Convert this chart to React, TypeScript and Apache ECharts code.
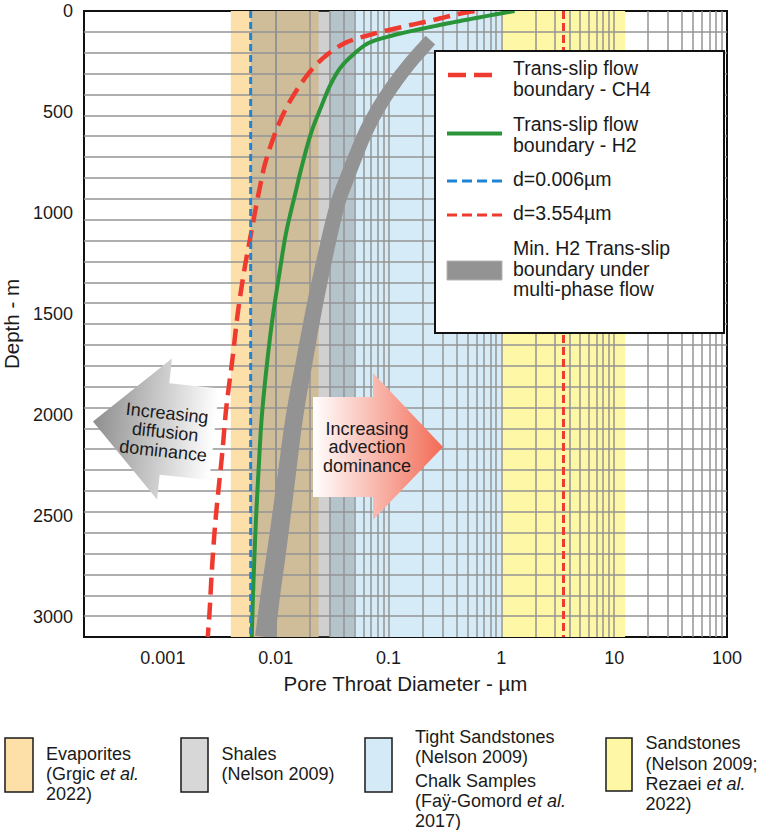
import React, { useEffect, useRef } from 'react';
import * as echarts from 'echarts';

// ---------- data ----------
const X_TICKS = [0.001, 0.01, 0.1, 1, 10, 100];
const X_TICK_LABELS = ['0.001', '0.01', '0.1', '1', '10', '100'];
const X_MIN = 0.0002;
const X_MAX = 100;
const Y_MAX = 3100;
const Y_INTERVAL = 500;
const H_GRID_COUNT = 30;

// Trans-slip flow boundary - CH4
const CH4_DIAM = [0.578, 0.414, 0.2484, 0.1345, 0.0728, 0.0407, 0.0248, 0.01716, 0.01156, 0.00822, 0.00716, 0.00605, 0.00527, 0.00461, 0.00416, 0.00363, 0.00338, 0.00293, 0.00272, 0.00259, 0.0025];
const CH4_DEPTH = [0, 15, 45, 78, 114, 160, 246, 352, 515, 738, 886, 1101, 1283, 1497, 1712, 1976, 2174, 2521, 2768, 2981, 3100];

// Trans-slip flow boundary - H2
const H2_DIAM = [1.31, 0.578, 0.24, 0.099, 0.0658, 0.05, 0.0381, 0.031, 0.0253, 0.0206, 0.01647, 0.01518, 0.01236, 0.01079, 0.00942, 0.00851, 0.00753, 0.00705, 0.0067, 0.00636, 0.00613];
const H2_DEPTH = [0, 36, 78, 127, 160, 210, 276, 358, 474, 604, 802, 886, 1099, 1299, 1514, 1712, 2009, 2273, 2511, 2818, 3100];

// Min. H2 trans-slip boundary under multi-phase flow (centre line)
const MP_DIAM = [0.235, 0.153, 0.1059, 0.0795, 0.0622, 0.0507, 0.0422, 0.0358, 0.02365, 0.01825, 0.01466, 0.01236, 0.01029, 0.0091, 0.00805];
const MP_DEPTH = [144, 262, 381, 490, 604, 723, 837, 946, 1382, 1712, 2009, 2322, 2659, 2867, 3100];

// reference diameters
const D_SMALL = 0.006;
const D_LARGE = 3.554;

// rock pore-throat ranges
const BAND_NAMES = ['Evaporites', 'Tight Sandstones / Chalk', 'Sandstones', 'Shales'];
const BAND_MIN = [0.004, 0.03, 1, 0.006];
const BAND_MAX = [0.024, 1, 12.5, 0.05];

const FONT = "'Liberation Sans', Arial, Helvetica, sans-serif";
const TXT = '#1a1a1a';
const RED = '#ee3a2f';
const GREEN = '#2a9438';
const BLUE = '#1f84d4';
const GRAYBAND = '#939393';
const BAND_COLORS = ['#fde0a9', '#d6ebf8', '#fef7a5', 'rgba(120,120,120,0.35)'];

// centripetal Catmull-Rom through pixel points (drawing only)
function densify(pts: number[][]): number[][] {
  const n0 = pts.length;
  if (n0 < 3) return pts;
  const ext = [
    [2 * pts[0][0] - pts[1][0], 2 * pts[0][1] - pts[1][1]],
    ...pts,
    [2 * pts[n0 - 1][0] - pts[n0 - 2][0], 2 * pts[n0 - 1][1] - pts[n0 - 2][1]],
  ];
  const out: number[][] = [];
  const dist = (a: number[], b: number[]) => Math.pow(Math.hypot(b[0] - a[0], b[1] - a[1]) || 1e-6, 0.5);
  const lerp = (a: number[], b: number[], ta: number, tb: number, t: number) => {
    const k = (t - ta) / (tb - ta);
    return [a[0] + (b[0] - a[0]) * k, a[1] + (b[1] - a[1]) * k];
  };
  for (let i = 1; i < ext.length - 2; i++) {
    const p0 = ext[i - 1];
    const p1 = ext[i];
    const p2 = ext[i + 1];
    const p3 = ext[i + 2];
    const t0 = 0;
    const t1 = t0 + dist(p0, p1);
    const t2 = t1 + dist(p1, p2);
    const t3 = t2 + dist(p2, p3);
    const steps = 14;
    for (let s = 0; s < steps; s++) {
      const t = t1 + ((t2 - t1) * s) / steps;
      const A1 = lerp(p0, p1, t0, t1, t);
      const A2 = lerp(p1, p2, t1, t2, t);
      const A3 = lerp(p2, p3, t2, t3, t);
      const B1 = lerp(A1, A2, t0, t2, t);
      const B2 = lerp(A2, A3, t1, t3, t);
      out.push(lerp(B1, B2, t1, t2, t));
    }
  }
  out.push(pts[n0 - 1]);
  return out;
}

function buildOption() {
  const vGrid: number[] = [];
  for (let e = -4; e <= 1; e++) {
    for (let m = 1; m <= 9; m++) {
      const v = m * Math.pow(10, e);
      if (v > X_MIN * 1.0001 && v < X_MAX * 0.9999) vGrid.push(v);
    }
  }
  const hGrid: number[] = [];
  for (let k = 1; k < H_GRID_COUNT; k++) hGrid.push((k * Y_MAX) / H_GRID_COUNT);

  const pair = (xs: number[], ys: number[]) => xs.map((x, i) => [x, ys[i]]);

  const text = (x: number, y: number, t: string, size: number, lh: number, extra: any = {}) => ({
    type: 'text',
    x,
    y,
    z: 100,
    style: {
      text: t,
      fontSize: size,
      fontFamily: FONT,
      fill: TXT,
      lineHeight: lh,
      align: 'left',
      verticalAlign: 'top',
      rich: {
        i: { fontStyle: 'italic', fontSize: size, fontFamily: FONT, fill: TXT, lineHeight: lh },
      },
      ...extra,
    },
  });

  const swatch = (x: number, y: number, w: number, h: number, fill: string) => ({
    type: 'rect',
    z: 100,
    shape: { x, y, width: w, height: h },
    style: { fill, stroke: TXT, lineWidth: 1.5 },
  });

  const legLine = (y: number, x1: number, x2: number, stroke: string, w: number, dash: number[] | null) => ({
    type: 'line',
    z: 101,
    shape: { x1, y1: y, x2, y2: y },
    style: { stroke, lineWidth: w, lineDash: dash || undefined },
  });

  const graphic: any[] = [
    // legend box
    {
      type: 'rect',
      z: 100,
      shape: { x: 435, y: 51, width: 289, height: 282 },
      style: { fill: '#ffffff', stroke: '#111', lineWidth: 2 },
    },
    legLine(75, 448, 496, RED, 4.5, [18, 8]),
    text(513, 58, 'Trans-slip flow\nboundary - CH4', 19.5, 20.5),
    legLine(133.5, 447, 502, GREEN, 4, null),
    text(513, 113.5, 'Trans-slip flow\nboundary - H2', 19.5, 21),
    legLine(181, 447, 502, BLUE, 3, [10, 5]),
    text(513, 169, 'd=0.006µm', 19.5, 20.5),
    legLine(215, 447, 502, RED, 3, [10, 5]),
    text(513, 203, 'd=3.554µm', 19.5, 20.5),
    {
      type: 'rect',
      z: 101,
      shape: { x: 447, y: 261, width: 55, height: 19 },
      style: { fill: GRAYBAND, stroke: '#b5b5b5', lineWidth: 1 },
    },
    text(513, 238, 'Min. H2 Trans-slip\nboundary under\nmulti-phase flow', 19.5, 20.5),

    // left arrow (diffusion)
    {
      type: 'group',
      x: 164.5,
      y: 429,
      rotation: -0.105,
      z: 100,
      children: [
        {
          type: 'polygon',
          z: 100,
          shape: { points: [[-72, 0], [0, -71], [0, -46], [50, -46], [50, 46], [0, 46], [0, 71]] },
          style: {
            fill: new echarts.graphic.LinearGradient(0, 0, 1, 0, [
              { offset: 0, color: '#8e8e8e' },
              { offset: 1, color: '#ffffff' },
            ]),
          },
        },
        {
          type: 'text',
          z: 101,
          x: 1,
          y: 3,
          style: {
            text: 'Increasing\ndiffusion\ndominance',
            fontSize: 18,
            fontFamily: FONT,
            fill: TXT,
            lineHeight: 19,
            align: 'center',
            verticalAlign: 'middle',
          },
        },
      ],
    },
    // right arrow (advection)
    {
      type: 'polygon',
      z: 100,
      shape: { points: [[313, 397], [373, 397], [373, 373], [443, 447], [373, 520], [373, 497], [313, 497]] },
      style: {
        fill: new echarts.graphic.LinearGradient(0, 0, 1, 0, [
          { offset: 0, color: '#ffffff' },
          { offset: 1, color: '#f26b55' },
        ]),
      },
    },
    {
      type: 'text',
      z: 101,
      x: 367,
      y: 447,
      style: {
        text: 'Increasing\nadvection\ndominance',
        fontSize: 18,
        fontFamily: FONT,
        fill: TXT,
        lineHeight: 18.5,
        align: 'center',
        verticalAlign: 'middle',
      },
    },

    // bottom legend
    swatch(5, 738, 28, 54, '#fddfa8'),
    text(46, 744, 'Evaporites\n(Grgic {i|et al.}\n2022)', 18, 20),
    swatch(181, 738, 27, 54, '#d7d7d7'),
    text(221.5, 744, 'Shales\n(Nelson 2009)', 18, 20),
    swatch(365, 738, 27, 54, '#d5eaf7'),
    text(415, 727, 'Tight Sandstones\n(Nelson 2009)', 18, 20),
    text(415, 771, 'Chalk Samples\n(Faÿ-Gomord {i|et al.}\n2017)', 18, 20),
    swatch(606, 738, 26, 53, '#fef8a6'),
    text(645.5, 733, 'Sandstones\n(Nelson 2009;\nRezaei {i|et al.}\n2022)', 18, 20.4),
  ];

  // custom renderer: smooth polyline through the data (via the axes' scales)
  const curveRenderer = (xs: number[], ys: number[], style: any) => (params: any, api: any) => {
    if (params.dataIndex !== 0) return null;
    const pts = densify(xs.map((x, i) => api.coord([x, ys[i]])));
    return { type: 'polyline', shape: { points: pts }, style: { fill: null, ...style } };
  };

  const series: any[] = [
    {
      name: 'bands',
      type: 'line',
      data: [],
      silent: true,
      markArea: {
        z: 1,
        silent: true,
        label: { show: false },
        data: BAND_NAMES.slice(0, 3).map((n, i) => [
          { name: n, xAxis: BAND_MIN[i], itemStyle: { color: BAND_COLORS[i] } },
          { xAxis: BAND_MAX[i] },
        ]),
      },
    },
    {
      name: 'shales',
      type: 'line',
      data: [],
      silent: true,
      markArea: {
        z: 1.5,
        silent: true,
        label: { show: false },
        data: [[{ name: BAND_NAMES[3], xAxis: BAND_MIN[3], itemStyle: { color: BAND_COLORS[3] } }, { xAxis: BAND_MAX[3] }]],
      },
    },
    {
      name: 'gridlines',
      type: 'line',
      data: [],
      silent: true,
      markLine: {
        z: 2,
        silent: true,
        symbol: 'none',
        label: { show: false },
        lineStyle: { color: '#959595', width: 1.5, type: 'solid' },
        emphasis: { disabled: true },
        data: [...vGrid.map((v) => ({ xAxis: v })), ...hGrid.map((d) => ({ yAxis: d }))],
      },
    },
    {
      name: 'Min. H2 Trans-slip boundary under multi-phase flow',
      type: 'custom',
      z: 5,
      clip: true,
      silent: true,
      encode: { x: 0, y: 1 },
      data: pair(MP_DIAM, MP_DEPTH),
      renderItem: (params: any, api: any) => {
        if (params.dataIndex !== 0) return null;
        const dense = densify(MP_DIAM.map((x, i) => api.coord([x, MP_DEPTH[i]])));
        const n = dense.length;
        const yTop = dense[0][1];
        const yBot = dense[n - 1][1];
        const left: number[][] = [];
        const right: number[][] = [];
        for (let i = 0; i < n; i++) {
          const a = dense[Math.max(i - 1, 0)];
          const b = dense[Math.min(i + 1, n - 1)];
          const dx = b[0] - a[0];
          const dy = b[1] - a[1];
          const len = Math.hypot(dx, dy) || 1;
          const nx = -dy / len;
          const ny = dx / len;
          const w = (13 + 7 * (dense[i][1] - yTop) / (yBot - yTop)) / 2;
          left.push([dense[i][0] + nx * w, dense[i][1] + ny * w]);
          right.push([dense[i][0] - nx * w, dense[i][1] - ny * w]);
        }
        return {
          type: 'polygon',
          shape: { points: left.concat(right.reverse()) },
          style: { fill: GRAYBAND },
        };
      },
    },
    {
      name: 'Trans-slip flow boundary - H2',
      type: 'custom',
      z: 6,
      clip: true,
      silent: true,
      encode: { x: 0, y: 1 },
      data: pair(H2_DIAM, H2_DEPTH),
      renderItem: curveRenderer(H2_DIAM, H2_DEPTH, { stroke: GREEN, lineWidth: 4 }),
    },
    {
      name: 'Trans-slip flow boundary - CH4',
      type: 'custom',
      z: 7,
      clip: true,
      silent: true,
      encode: { x: 0, y: 1 },
      data: pair(CH4_DIAM, CH4_DEPTH),
      renderItem: curveRenderer(CH4_DIAM, CH4_DEPTH, { stroke: RED, lineWidth: 4.5, lineDash: [17, 8] }),
    },
    {
      name: 'd=0.006µm',
      type: 'line',
      z: 7,
      symbol: 'none',
      silent: true,
      data: [[D_SMALL, 0], [D_SMALL, Y_MAX]],
      lineStyle: { color: BLUE, width: 3, type: [7, 4] },
    },
    {
      name: 'd=3.554µm',
      type: 'line',
      z: 7,
      symbol: 'none',
      silent: true,
      data: [[D_LARGE, 0], [D_LARGE, Y_MAX]],
      lineStyle: { color: RED, width: 3, type: [8, 4] },
    },
  ];

  return {
    animation: false,
    backgroundColor: '#ffffff',
    grid: {
      left: 84,
      top: 11,
      right: 32,
      bottom: 193,
      show: true,
      borderColor: '#111',
      borderWidth: 2,
      backgroundColor: 'transparent',
      containLabel: false,
      outerBoundsMode: 'none',
    },
    xAxis: {
      type: 'log',
      logBase: 10,
      min: X_MIN,
      max: X_MAX,
      name: 'Pore Throat Diameter - µm',
      nameLocation: 'middle',
      nameGap: 36,
      nameTextStyle: { fontSize: 20.5, fontFamily: FONT, color: TXT },
      axisLine: { show: false },
      axisTick: { show: false },
      splitLine: { show: false },
      axisLabel: {
        showMinLabel: false,
        fontSize: 18,
        fontFamily: FONT,
        color: TXT,
        margin: 12,
        formatter: (v: number) => {
          const i = X_TICKS.findIndex((t) => Math.abs(Math.log10(t) - Math.log10(v)) < 1e-6);
          return i >= 0 ? X_TICK_LABELS[i] : '';
        },
      },
    },
    yAxis: {
      type: 'value',
      inverse: true,
      min: 0,
      max: Y_MAX,
      interval: Y_INTERVAL,
      name: 'Depth - m',
      nameLocation: 'middle',
      nameGap: 50,
      nameTextStyle: { fontSize: 20.5, fontFamily: FONT, color: TXT },
      axisLine: { show: false },
      axisTick: { show: false },
      splitLine: { show: false },
      axisLabel: {
        showMaxLabel: false,
        fontSize: 18,
        fontFamily: FONT,
        color: TXT,
        margin: 11,
        formatter: (v: number) => String(v),
      },
    },
    series,
    graphic,
  };
}

export default function App() {
  const ref = useRef<HTMLDivElement>(null);
  useEffect(() => {
    if (!ref.current) return;
    const chart = echarts.init(ref.current, undefined, { renderer: 'svg' });
    chart.setOption(buildOption() as any);
    return () => chart.dispose();
  }, []);
  return (
    <div
      ref={ref}
      style={{ position: 'fixed', left: 0, top: 0, width: 759, height: 830, background: '#fff' }}
    />
  );
}
